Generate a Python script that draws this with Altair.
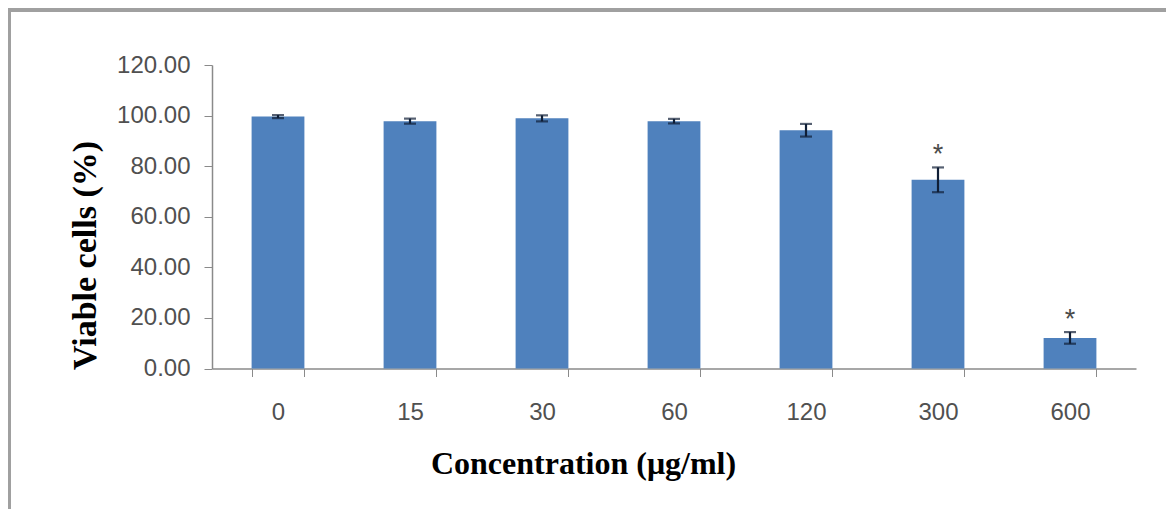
import altair as alt
import pandas as pd

concentrations = ["0", "15", "30", "60", "120", "300", "600"]
viable = [99.6, 97.8, 98.9, 97.8, 94.2, 74.6, 12.1]
sd = [0.6, 1.0, 1.2, 0.9, 2.5, 4.9, 2.3]
signif = ["", "", "", "", "", "*", "*"]

df = pd.DataFrame({
    "conc": concentrations,
    "mean": viable,
    "sd": sd,
    "sig": signif,
})
df["lo"] = df["mean"] - df["sd"]
df["hi"] = df["mean"] + df["sd"]

W, H = 924, 303.5

x_enc = alt.X(
    "conc:N", sort=concentrations,
    scale=alt.Scale(paddingInner=0.6, paddingOuter=0.3),
    axis=alt.Axis(
        title="Concentration (μg/ml)", labelAngle=0, tickBand="extent",
        titleFont="Liberation Serif", titleFontWeight="bold", titleFontSize=32,
        titleColor="#000000", titlePadding=24, titleX=371,
        labelFont="Liberation Sans", labelFontSize=24, labelColor="#505050",
        labelPadding=24, tickSize=8, tickColor="#8a8a8a",
        domainColor="#8a8a8a", domainWidth=1.5,
    ),
)

y_scale = alt.Scale(domain=[0, 120], nice=False)

bars = alt.Chart(df).mark_bar(color="#4f81bd").encode(
    x=x_enc,
    y=alt.Y(
        "mean:Q", scale=y_scale,
        axis=alt.Axis(
            title="Viable  cells (%)", values=[0, 20, 40, 60, 80, 100, 120],
            format=".2f", grid=False,
            titleFont="Liberation Serif", titleFontWeight="bold", titleFontSize=34,
            titleColor="#000000", titlePadding=14, titleY=190,
            labelFont="Liberation Sans", labelFontSize=24, labelColor="#505050",
            labelPadding=14, tickSize=8, tickColor="#8a8a8a",
            domainColor="#8a8a8a", domainWidth=1.5,
        ),
    ),
)

err = alt.Chart(df).mark_rule(color="#0f1e36", strokeWidth=2.2).encode(
    x=alt.X("conc:N", sort=concentrations),
    y=alt.Y("lo:Q", scale=y_scale),
    y2="hi:Q",
)
cap_lo = alt.Chart(df).mark_tick(color="#0f1e36", thickness=2.2, size=12, orient="horizontal").encode(
    x=alt.X("conc:N", sort=concentrations),
    y=alt.Y("lo:Q", scale=y_scale),
)
cap_hi = alt.Chart(df).mark_tick(color="#0f1e36", thickness=2.2, size=12, orient="horizontal").encode(
    x=alt.X("conc:N", sort=concentrations),
    y=alt.Y("hi:Q", scale=y_scale),
)
stars = alt.Chart(df).mark_text(
    font="Liberation Sans", fontSize=27, color="#4a4a4a", dy=-4, baseline="alphabetic"
).encode(
    x=alt.X("conc:N", sort=concentrations),
    y=alt.Y("hi:Q", scale=y_scale),
    text="sig:N",
)

frame_top = alt.Chart(df).mark_rule(stroke="#a0a0a0", strokeWidth=3, clip=False).encode(
    x=alt.value(-203), x2=alt.value(954), y=alt.value(-55),
)
frame_left = alt.Chart(df).mark_rule(stroke="#a0a0a0", strokeWidth=3, clip=False).encode(
    x=alt.value(-202.5), y=alt.value(-56.5), y2=alt.value(452),
)

chart = alt.layer(frame_top, frame_left, bars, err, cap_lo, cap_hi, stars).properties(
    width=W, height=H,
    autosize=alt.AutoSizeParams(type="none"),
    padding={"left": 204, "top": 57, "right": 30, "bottom": 140},
    background="#ffffff",
).configure_view(stroke=None)

chart.save("out.html", embed_options={"renderer": "svg", "actions": False})
